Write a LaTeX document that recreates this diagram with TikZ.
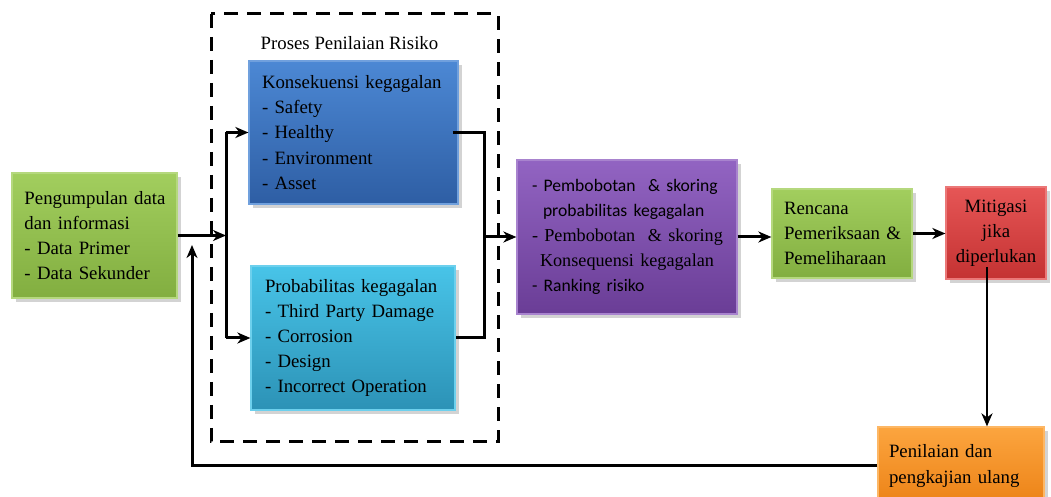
\documentclass[tikz,border=0pt]{standalone}
\usepackage{fontspec}
\setmainfont{Liberation Serif}
\newfontfamily\calf{Carlito}
\usetikzlibrary{arrows.meta,shadows,calc}

\definecolor{grnA}{HTML}{A2CE5E}\definecolor{grnB}{HTML}{82AE40}
\definecolor{bluA}{HTML}{4C88D4}\definecolor{bluB}{HTML}{2E5EA4}
\definecolor{cyaA}{HTML}{48C4E8}\definecolor{cyaB}{HTML}{2C92B6}
\definecolor{purA}{HTML}{9264C2}\definecolor{purB}{HTML}{6A3D96}
\definecolor{redA}{HTML}{E65656}\definecolor{redB}{HTML}{C43232}
\definecolor{oraA}{HTML}{FCA53F}\definecolor{oraB}{HTML}{EC8216}

\newcommand{\boxfont}{\fontsize{9.4}{12.6}\selectfont\hyphenpenalty=10000\exhyphenpenalty=10000}
\newcommand{\sansline}{\calf\fontsize{8.8}{12.6}\selectfont}
\newcommand{\serifline}{\fontsize{9.1}{12.6}\selectfont}
\tikzset{
  box/.style n args={2}{
    rectangle, top color=#1, bottom color=#2, draw=#1!80!white,
    line width=0.6pt, inner ysep=0pt,
    drop shadow={opacity=0.35, shadow xshift=1.8pt, shadow yshift=-1.8pt},
    font=\boxfont, text=black},
  flow/.style={line width=1.5pt, -{Stealth[length=6.5pt,width=5.5pt,inset=2pt]}},
  plain/.style={line width=1.5pt},
  frame/.style={draw, line width=1.5pt, dash pattern=on 7pt off 4.5pt}
}

\begin{document}
\begin{tikzpicture}[x=0.5pt,y=-0.5pt]
\useasboundingbox (0,0) rectangle (1051,497);

% assessment process frame
\draw[frame] (211,14) rectangle (498,442);
\node[font=\boxfont] (title) at (349.5,43) {Proses Penilaian Risiko};

% boxes
\node[box={grnA}{grnB}, minimum width=82.5pt, minimum height=62.5pt,
      text width=70pt, inner xsep=6.25pt, align=left] (data) at (94.5,235.5)
  {Pengumpulan~data\\dan~informasi\\-~Data~Primer\\-~Data~Sekunder};

\node[box={bluA}{bluB}, minimum width=104.5pt, minimum height=71.5pt,
      text width=91.5pt, inner xsep=6.5pt, align=left] (kons) at (353.5,132.5)
  {Konsekuensi~kegagalan\\- Safety\\- Healthy\\- Environment\\- Asset};

\node[box={cyaA}{cyaB}, minimum width=102pt, minimum height=72pt,
      text width=88pt, inner xsep=7pt, align=left] (prob) at (353,338)
  {Probabilitas~kegagalan\\-~Third~Party~Damage\\- Corrosion\\- Design\\-~Incorrect~Operation};

\node[box={purA}{purB}, minimum width=110pt, minimum height=77pt,
      text width=95pt, inner xsep=7.5pt, align=left] (risk) at (627,237)
  {{\sansline -~Pembobotan~~\&~skoring}\\
   {\sansline\hspace*{5.5pt}probabilitas~kegagalan}\\
   {\serifline -~Pembobotan~~\&~skoring}\\
   {\serifline\hspace*{4pt}Konsequensi~kegagalan}\\
   {\sansline -~Ranking~risiko}};

\node[box={grnA}{grnB}, minimum width=70pt, minimum height=44.5pt,
      text width=58pt, inner xsep=6pt, align=left] (rencana) at (842,233.5)
  {Rencana\\Pemeriksaan~\&\\Pemeliharaan};

\node[box={redA}{redB}, minimum width=50pt, minimum height=46pt,
      text width=46pt, inner xsep=2pt, align=center] (mit) at (996,233)
  {Mitigasi\\jika\\diperlukan};

\node[box={oraA}{oraB}, minimum width=83pt, minimum height=39pt,
      text width=72pt, inner xsep=5.5pt, align=left] (nilai) at (961,466)
  {Penilaian~dan\\pengkajian~ulang};

% connectors
\coordinate (split) at (226,236);
\coordinate (merge) at (484,237);
\coordinate (mdrop) at (987,267);
\coordinate (fb) at (192,466);
\coordinate (fbtop) at (192,245);

\draw[flow] (data.east) -- (split |- data.east);
\draw[plain] (split |- kons.west) -- (split |- prob.west);
\draw[flow] (split |- kons.west) -- (kons.west);
\draw[flow] (split |- prob.west) -- (prob.west);

\draw[plain] ([xshift=-3pt]kons.east) -- (merge |- kons.east) -- (merge |- prob.east) -- (prob.east);
\draw[flow] (merge) -- (risk.west);

\draw[flow] (risk.east) -- (risk.east -| rencana.west);
\draw[flow] (rencana.east) -- (rencana.east -| mit.west);
\draw[flow, line width=1.2pt] (mdrop) -- (mdrop |- nilai.north);
\draw[flow] (nilai.west) -- (fb) -- (fbtop);
\end{tikzpicture}
\end{document}
